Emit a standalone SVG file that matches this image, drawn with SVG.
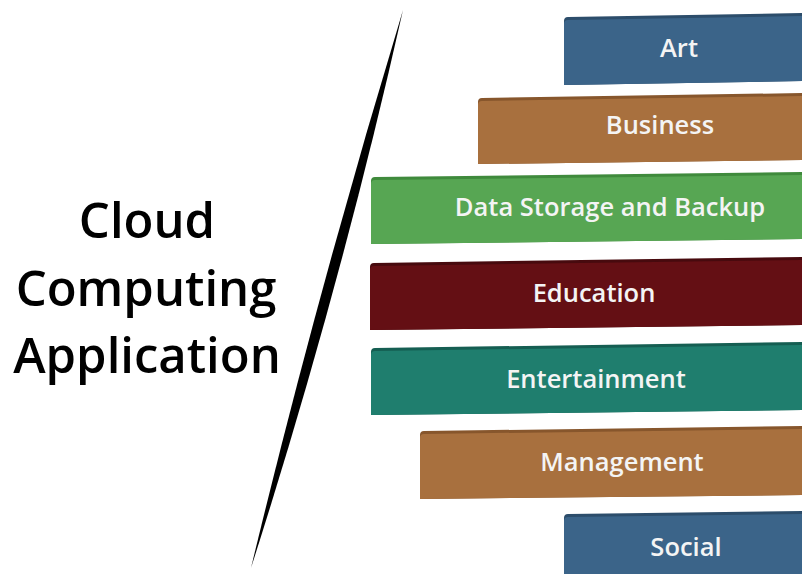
<svg xmlns="http://www.w3.org/2000/svg" width="802" height="574" viewBox="0 0 802 574">
<style>
.title{font-family:"Open Sans","Liberation Sans",sans-serif;font-weight:600;font-size:49px;fill:#000;text-anchor:middle}
.lbl{font-family:"Open Sans","Liberation Sans",sans-serif;font-weight:600;font-size:25.5px;fill:#f4f4f4;text-anchor:middle}
</style>
<rect width="802" height="574" fill="#fff"/>
<g id="title">
<text class="title" x="147" y="238">Cloud</text>
<text class="title" x="146" y="306">Computing</text>
<text class="title" x="147" y="373">Application</text>
</g>
<g id="slash">
<path d="M403,10 Q318,290 251,568 Q340,290 403,10 Z" fill="#000"/>
</g>
<g id="art">
<path d="M564,21 Q564,17 568,17 L802,13 L802,81 L564,85 Z" fill="#2c4d6b"/>
<path d="M564,24 Q564,20 568,20 L802,16 L802,81 L564,85 Z" fill="#3b6489"/>
<text class="lbl" x="679" y="57">Art</text>
</g>
<g id="business">
<path d="M478,102 Q478,98 482,98 L802,93 L802,160 L478,164 Z" fill="#87562c"/>
<path d="M478,105 Q478,101 482,101 L802,96 L802,160 L478,164 Z" fill="#a8703e"/>
<text class="lbl" x="660" y="134">Business</text>
</g>
<g id="data">
<path d="M371,181 Q371,177 375,177 L802,172 L802,239 L371,244 Z" fill="#3f8a3c"/>
<path d="M371,184 Q371,180 375,180 L802,175 L802,239 L371,244 Z" fill="#57a653"/>
<text class="lbl" x="610" y="216">Data Storage and Backup</text>
</g>
<g id="education">
<path d="M370,267 Q370,263 374,263 L802,257 L802,325 L370,330 Z" fill="#470a0e"/>
<path d="M370,270 Q370,266 374,266 L802,260 L802,325 L370,330 Z" fill="#640f14"/>
<text class="lbl" x="594" y="302">Education</text>
</g>
<g id="entertainment">
<path d="M371,352 Q371,348 375,348 L802,342 L802,410 L371,415 Z" fill="#155e52"/>
<path d="M371,355 Q371,351 375,351 L802,345 L802,410 L371,415 Z" fill="#1f7e6e"/>
<text class="lbl" x="596" y="388">Entertainment</text>
</g>
<g id="management">
<path d="M420,435 Q420,431 424,431 L802,426 L802,495 L420,499 Z" fill="#87562c"/>
<path d="M420,438 Q420,434 424,434 L802,429 L802,495 L420,499 Z" fill="#a8703e"/>
<text class="lbl" x="622" y="471">Management</text>
</g>
<g id="social">
<path d="M564,518 Q564,514 568,514 L802,511 L802,574 L564,574 Z" fill="#2c4d6b"/>
<path d="M564,521 Q564,517 568,517 L802,514 L802,574 L564,574 Z" fill="#3b6489"/>
<text class="lbl" x="686" y="556">Social</text>
</g>
<g id="connectors"></g>
</svg>
